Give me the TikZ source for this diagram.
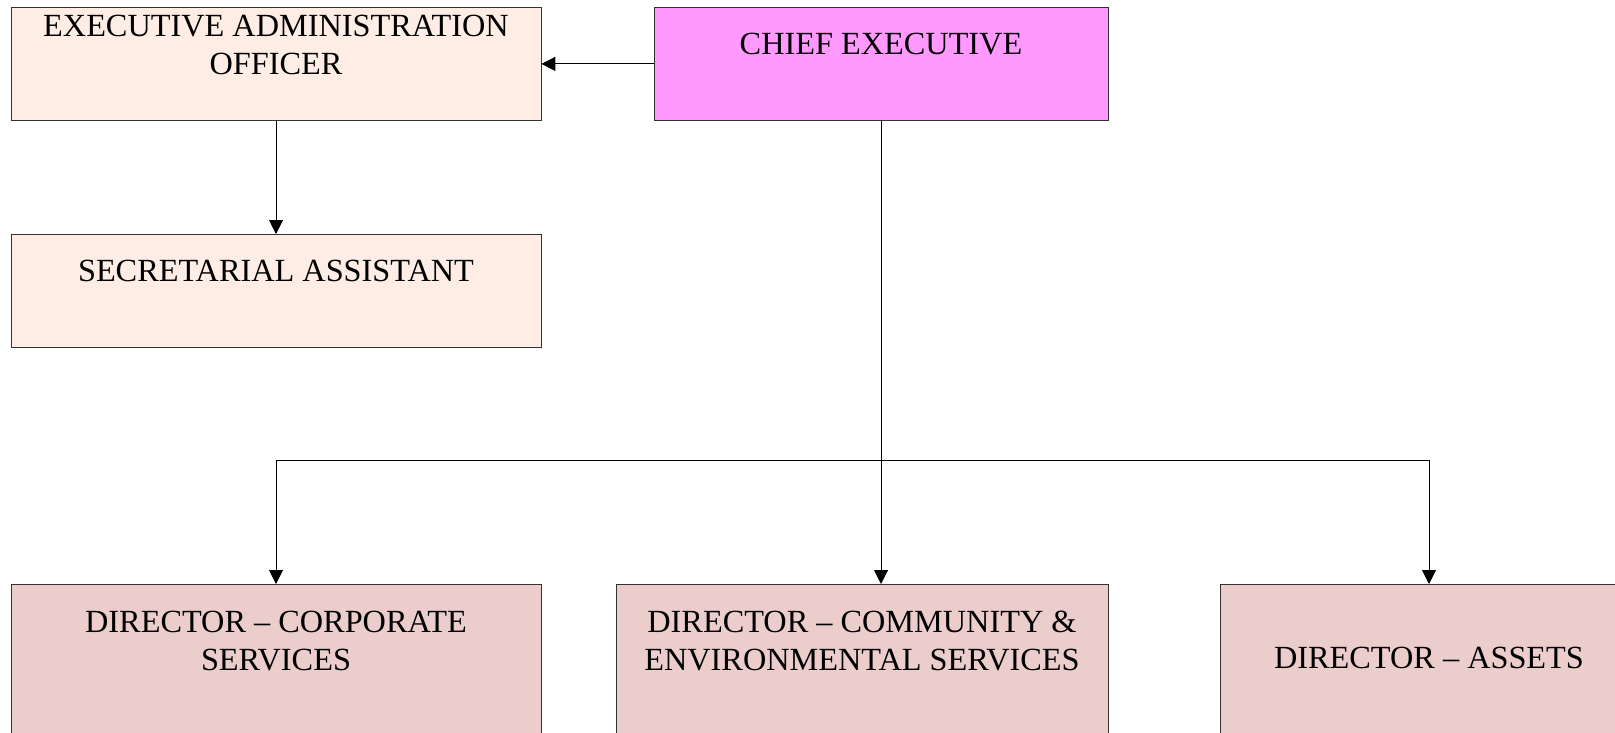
\documentclass[tikz,border=0pt]{standalone}
\usepackage{fontspec}
\setmainfont{Liberation Serif}
\usetikzlibrary{positioning,arrows.meta}
\definecolor{adminfill}{RGB}{253,237,228}
\definecolor{chieffill}{RGB}{255,153,255}
\definecolor{dirfill}{RGB}{235,205,204}
\tikzset{
  post/.style  = {rectangle, draw=black!80, line width=0.8pt, anchor=north,
                  inner xsep=0pt, inner ysep=0pt, align=center,
                  font=\fontsize{32.3}{38}\selectfont},
  admin/.style = {post, fill=adminfill, minimum width=530pt},
  chief/.style = {post, fill=chieffill, minimum width=454pt},
  dir/.style   = {post, fill=dirfill},
  arr/.style   = {-{Triangle[length=14pt,width=14pt]}, line width=1pt}
}
\begin{document}
\begin{tikzpicture}[x=1pt,y=-1pt]
  \useasboundingbox (0,0) rectangle (1615,732);
  \node[admin,text height=67pt,text depth=46pt] (eao) at (276,7) {EXECUTIVE ADMINISTRATION\\OFFICER};
  \node[chief,text height=47pt,text depth=66pt] (ceo) at (881,7) {CHIEF EXECUTIVE};
  \node[admin,text height=47pt,text depth=66pt] (sa) at (276,234) {SECRETARIAL ASSISTANT};
  \node[dir,minimum width=530pt,text height=86pt,text depth=114pt] (dcs) at (276,584) {DIRECTOR -- CORPORATE\\SERVICES};
  \node[dir,minimum width=492pt,text height=86pt,text depth=114pt] (dces) at (862,584) {DIRECTOR -- COMMUNITY \&\\ENVIRONMENTAL SERVICES};
  \node[dir,minimum width=418pt,text height=84pt,text depth=116pt] (da) at (1429,584) {DIRECTOR -- ASSETS};
  \coordinate (split) at (881,460);
  \draw[arr](ceo.west)--(eao.east);
  \draw[arr](eao.south)--(sa.north);
  \draw[arr](ceo.south)--(ceo.south |- dces.north);
  \draw[arr](split)-|(dcs.north);
  \draw[arr](split)-|(da.north);
\end{tikzpicture}
\end{document}
